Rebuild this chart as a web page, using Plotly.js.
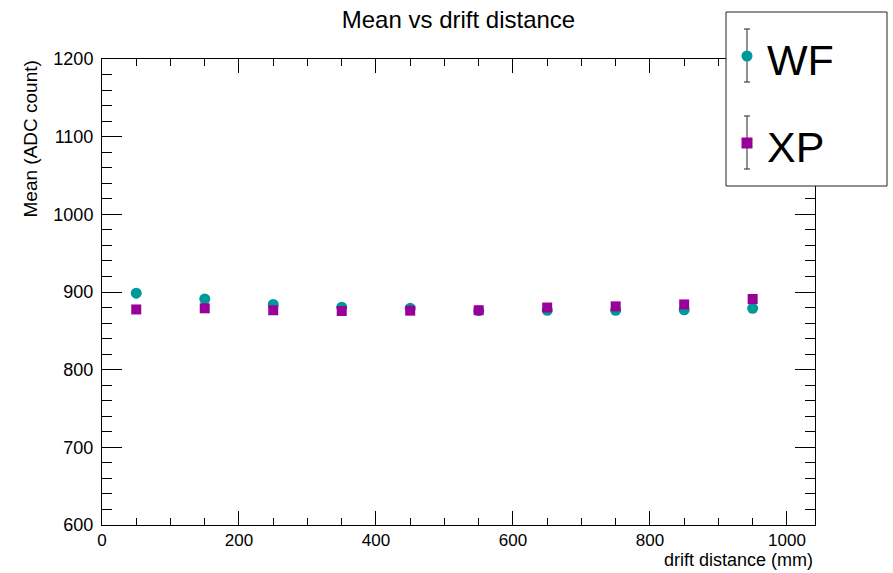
<!DOCTYPE html>
<html>
<head>
<meta charset="utf-8">
<script src="https://cdn.plot.ly/plotly-3.0.1.min.js"></script>
<style>html,body{margin:0;padding:0;background:#fff;}#chart{width:893px;height:573px;}</style>
</head>
<body>
<div id="chart"></div>
<script>
// Data
const driftDistance = [50, 150, 250, 350, 450, 550, 650, 750, 850, 950];
const meanWF = [898.5, 891, 884, 880.5, 879, 876, 876.5, 876.5, 877, 879];
const meanXP = [877.5, 879, 876.5, 875.5, 876, 876.5, 880, 881.5, 884, 891];
const seriesNames = ['WF', 'XP'];
const colorWF = 'rgb(0,153,153)';
const colorXP = 'rgb(153,0,153)';

const FONT = 'Liberation Sans, Arial, Helvetica, sans-serif';

const traces = [
  {x: driftDistance, y: meanWF, name: seriesNames[0], type: 'scatter', mode: 'markers',
   marker: {symbol: 'circle', size: 11, color: colorWF}},
  {x: driftDistance, y: meanXP, name: seriesNames[1], type: 'scatter', mode: 'markers',
   marker: {symbol: 'square', size: 10, color: colorXP}}
];

// plot area in pixels: x 102..815, y 59..525
const L = 102, R = 815, T = 59, B = 525;
const px = v => (v - L) / (R - L);
const py = v => (B - v) / (B - T);

function legendEntry(cy, symbol, color) {
  const cx = 747;
  const s = [];
  s.push({type: 'line', xref: 'paper', yref: 'paper', x0: px(cx), x1: px(cx), y0: py(cy - 27), y1: py(cy + 26), line: {color: '#222', width: 1}, layer: 'above'});
  s.push({type: 'line', xref: 'paper', yref: 'paper', x0: px(cx - 3), x1: px(cx + 3), y0: py(cy - 27), y1: py(cy - 27), line: {color: '#222', width: 1}, layer: 'above'});
  s.push({type: 'line', xref: 'paper', yref: 'paper', x0: px(cx - 3), x1: px(cx + 3), y0: py(cy + 26), y1: py(cy + 26), line: {color: '#222', width: 1}, layer: 'above'});
  const r = 5.5;
  s.push({type: symbol === 'circle' ? 'circle' : 'rect', xref: 'paper', yref: 'paper',
    x0: px(cx - r), x1: px(cx + r), y0: py(cy + r), y1: py(cy - r),
    fillcolor: color, line: {width: 0}, layer: 'above'});
  return s;
}

const shapes = [
  {type: 'rect', xref: 'paper', yref: 'paper', x0: px(726), x1: px(887), y0: py(186), y1: py(12),
   fillcolor: 'white', line: {color: '#222', width: 1}, layer: 'above'}
].concat(legendEntry(56, 'circle', colorWF), legendEntry(143, 'square', colorXP));

const layout = {
  width: 893, height: 573,
  margin: {l: L, r: 893 - R, t: T, b: 573 - B, pad: 0},
  paper_bgcolor: 'white', plot_bgcolor: 'white',
  showlegend: false,
  font: {family: FONT, color: 'black', size: 18},
  title: {text: 'Mean vs drift distance', x: 0.5, xref: 'paper', xanchor: 'center',
          y: 1 - 20 / 573, yref: 'container', yanchor: 'middle', font: {size: 24, family: FONT, color: 'black'}},
  xaxis: {range: [0, 1041], dtick: 200, tick0: 0, ticks: 'inside', ticklen: 14, tickwidth: 1, tickcolor: 'black',
          minor: {dtick: 50, ticklen: 7, tickcolor: 'black', ticks: 'inside', tickwidth: 1},
          showline: true, linecolor: 'black', linewidth: 1, mirror: 'ticks', showgrid: false, zeroline: false,
          tickfont: {size: 17, family: FONT}, ticklabelstandoff: 0},
  yaxis: {range: [600, 1200], dtick: 100, tick0: 600, ticks: 'inside', ticklen: 20, tickwidth: 1, tickcolor: 'black',
          minor: {dtick: 20, ticklen: 10, tickcolor: 'black', ticks: 'inside', tickwidth: 1},
          showline: true, linecolor: 'black', linewidth: 1, mirror: 'ticks', showgrid: false, zeroline: false,
          tickfont: {size: 18, family: FONT}, ticklabelstandoff: 4},
  shapes: shapes,
  annotations: [
    {text: 'drift distance (mm)', xref: 'paper', yref: 'paper', x: 1, y: py(560), xanchor: 'right', yanchor: 'middle',
     showarrow: false, font: {size: 18, family: FONT}},
    {text: 'Mean (ADC count)', xref: 'paper', yref: 'paper', x: px(30), y: 1, xanchor: 'center', yanchor: 'top',
     textangle: -90, showarrow: false, font: {size: 19, family: FONT}},
    {text: seriesNames[0], xref: 'paper', yref: 'paper', x: px(765), y: py(60), xanchor: 'left', yanchor: 'middle',
     showarrow: false, font: {size: 43, family: FONT}},
    {text: seriesNames[1], xref: 'paper', yref: 'paper', x: px(765), y: py(147), xanchor: 'left', yanchor: 'middle',
     showarrow: false, font: {size: 43, family: FONT}}
  ]
};

Plotly.newPlot('chart', traces, layout, {displayModeBar: false, staticPlot: true});
</script>
</body>
</html>
